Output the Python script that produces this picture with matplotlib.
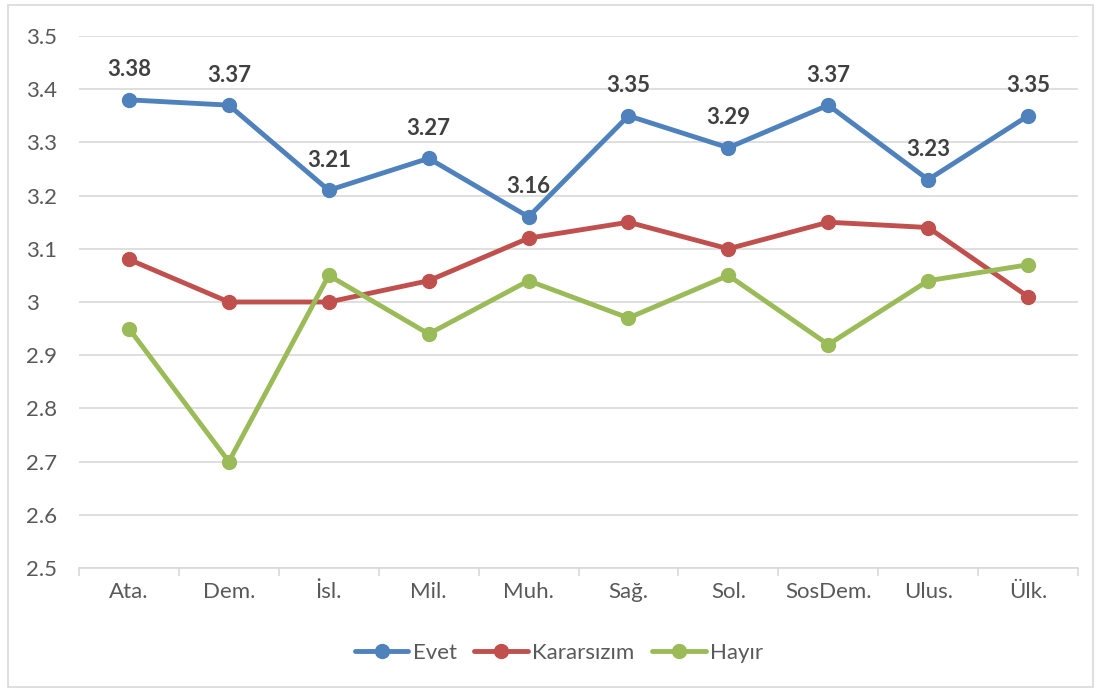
import matplotlib
matplotlib.use("Agg")
import matplotlib.pyplot as plt
from matplotlib.patches import Rectangle

categories = ["Ata.", "Dem.", "İsl.", "Mil.", "Muh.", "Sağ.", "Sol.", "SosDem.", "Ulus.", "Ülk."]
evet = [3.38, 3.37, 3.21, 3.27, 3.16, 3.35, 3.29, 3.37, 3.23, 3.35]
kararsizim = [3.08, 3.00, 3.00, 3.04, 3.12, 3.15, 3.10, 3.15, 3.14, 3.01]
hayir = [2.95, 2.70, 3.05, 2.94, 3.04, 2.97, 3.05, 2.92, 3.04, 3.07]
series_names = ["Evet", "Kararsızım", "Hayır"]
colors = ["#4F81BD", "#C0504D", "#9BBB59"]
yticks = [2.5, 2.6, 2.7, 2.8, 2.9, 3.0, 3.1, 3.2, 3.3, 3.4, 3.5]
ytick_labels = ["2.5", "2.6", "2.7", "2.8", "2.9", "3", "3.1", "3.2", "3.3", "3.4", "3.5"]

plt.rcParams['font.family'] = ['Lato', 'DejaVu Sans']
FS = 16

W, H = 1101, 691
fig = plt.figure(figsize=(W / 100, H / 100), dpi=100)
fig.patches.append(Rectangle((8 / W, 4 / H), 1085 / W, 682 / H, transform=fig.transFigure,
                             fill=False, edgecolor="#D9D9D9", linewidth=1.2))
ax = fig.add_axes([79 / W, (H - 568) / H, (1078 - 79) / W, (568 - 36) / H])

x = list(range(len(categories)))
for vals, name, c in zip([evet, kararsizim, hayir], series_names, colors):
    ax.plot(x, vals, color=c, linewidth=3.5, marker="o", markersize=10, label=name,
            solid_capstyle="round", zorder=3)

for xi, v in zip(x, evet):
    ax.annotate(f"{v:.2f}", (xi, v), xytext=(0, 14), textcoords="offset points",
                ha="center", va="bottom", fontsize=FS, fontweight="bold", color="#404040")

ax.set_xlim(-0.5, len(categories) - 0.5)
ax.set_ylim(2.5, 3.5)
ax.set_yticks(yticks)
ax.set_yticklabels(ytick_labels)
ax.set_xticks(x)
ax.set_xticklabels(categories)
ax.set_xticks([i - 0.5 for i in range(len(categories) + 1)], minor=True)
ax.tick_params(axis="x", which="major", length=0, pad=10, labelsize=FS, labelcolor="#595959")
ax.tick_params(axis="x", which="minor", length=6, color="#D9D9D9", width=1.2)
ax.tick_params(axis="y", length=0, pad=0, labelsize=FS, labelcolor="#595959")
for lab in ax.get_yticklabels():
    lab.set_horizontalalignment("left")
    lab.set_x((26 - 79) / (1078 - 79))
ax.grid(axis="y", color="#D9D9D9", linewidth=1.2)
ax.set_axisbelow(True)
for s in ["top", "right", "left"]:
    ax.spines[s].set_visible(False)
ax.spines["bottom"].set_color("#D9D9D9")
ax.spines["bottom"].set_linewidth(1.2)

leg = fig.legend(loc="center", bbox_to_anchor=(559 / W, (H - 653) / H), ncol=3, frameon=False,
                 fontsize=FS, handlelength=2.4, columnspacing=0.8, handletextpad=0.2)
for t in leg.get_texts():
    t.set_color("#595959")

fig.savefig("out.png", dpi=100)
